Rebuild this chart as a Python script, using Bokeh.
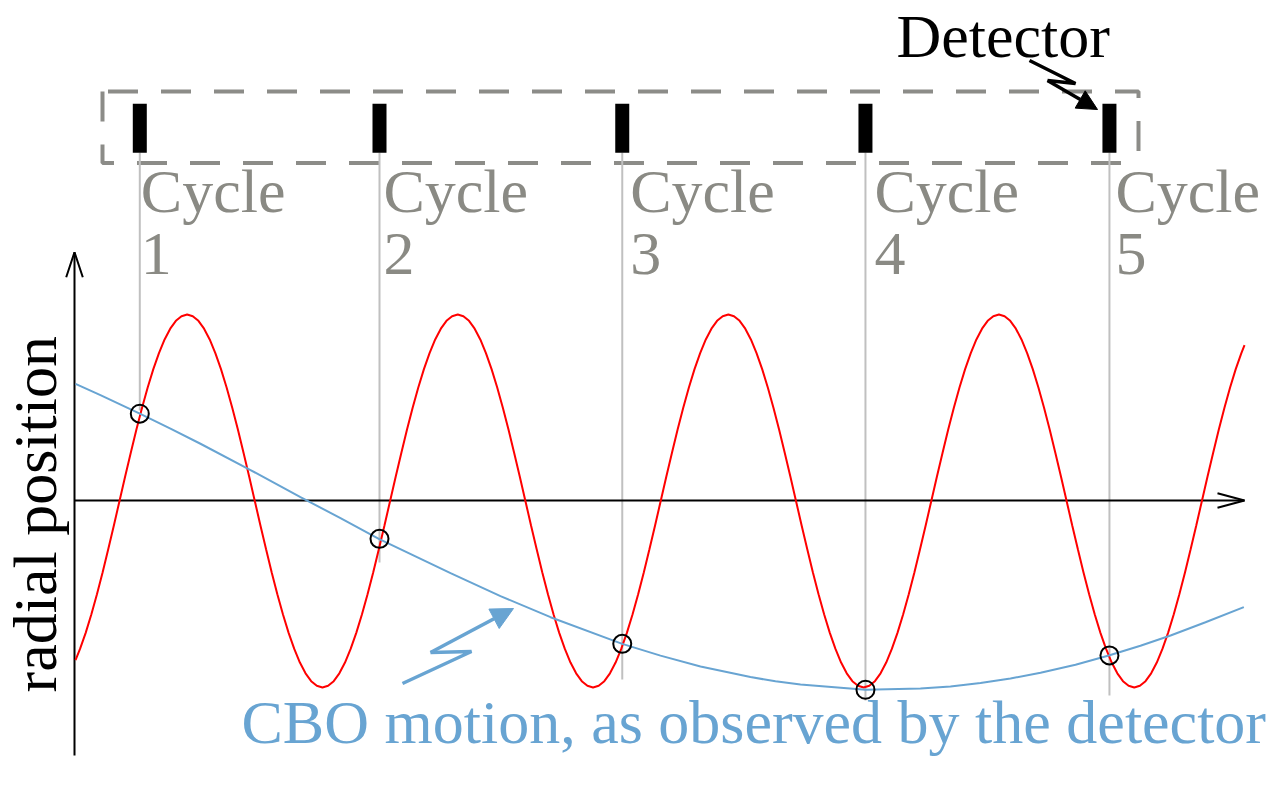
from bokeh.plotting import figure
from bokeh.models import Range1d, Label, Arrow, NormalHead
from bokeh.core.properties import value
from bokeh.embed import file_html
from bokeh.resources import INLINE

# ---------------- data ----------------
# x: time, in units of 1/24 of the CBO period (15 degrees of CBO phase)
# y: radial position, in units of the CBO amplitude
detector_x = [1.80, 23.06, 44.59, 66.16, 87.80]
cycle_numbers = ["1", "2", "3", "4", "5"]
observed_y = [0.468, -0.203, -0.766, -1.012, -0.828]

# red: true CBO motion, read every half unit (7.5 degrees of phase)
red_x = [-3.90] + [k / 2 for k in range(-7, 200)] + [99.78]
red_y = [
    -0.853, -0.793, -0.707, -0.609, -0.5, -0.383, -0.259, -0.131,
    # x = 0 .. 23.5
    0.0, 0.131, 0.259, 0.383, 0.5, 0.609, 0.707, 0.793, 0.866, 0.924, 0.966, 0.991,
    1.0, 0.991, 0.966, 0.924, 0.866, 0.793, 0.707, 0.609, 0.5, 0.383, 0.259, 0.131,
    0.0, -0.131, -0.259, -0.383, -0.5, -0.609, -0.707, -0.793, -0.866, -0.924, -0.966, -0.991,
    -1.0, -0.991, -0.966, -0.924, -0.866, -0.793, -0.707, -0.609, -0.5, -0.383, -0.259, -0.131,
    # x = 24 .. 47.5
    0.0, 0.131, 0.259, 0.383, 0.5, 0.609, 0.707, 0.793, 0.866, 0.924, 0.966, 0.991,
    1.0, 0.991, 0.966, 0.924, 0.866, 0.793, 0.707, 0.609, 0.5, 0.383, 0.259, 0.131,
    0.0, -0.131, -0.259, -0.383, -0.5, -0.609, -0.707, -0.793, -0.866, -0.924, -0.966, -0.991,
    -1.0, -0.991, -0.966, -0.924, -0.866, -0.793, -0.707, -0.609, -0.5, -0.383, -0.259, -0.131,
    # x = 48 .. 71.5
    0.0, 0.131, 0.259, 0.383, 0.5, 0.609, 0.707, 0.793, 0.866, 0.924, 0.966, 0.991,
    1.0, 0.991, 0.966, 0.924, 0.866, 0.793, 0.707, 0.609, 0.5, 0.383, 0.259, 0.131,
    0.0, -0.131, -0.259, -0.383, -0.5, -0.609, -0.707, -0.793, -0.866, -0.924, -0.966, -0.991,
    -1.0, -0.991, -0.966, -0.924, -0.866, -0.793, -0.707, -0.609, -0.5, -0.383, -0.259, -0.131,
    # x = 72 .. 95.5
    0.0, 0.131, 0.259, 0.383, 0.5, 0.609, 0.707, 0.793, 0.866, 0.924, 0.966, 0.991,
    1.0, 0.991, 0.966, 0.924, 0.866, 0.793, 0.707, 0.609, 0.5, 0.383, 0.259, 0.131,
    0.0, -0.131, -0.259, -0.383, -0.5, -0.609, -0.707, -0.793, -0.866, -0.924, -0.966, -0.991,
    -1.0, -0.991, -0.966, -0.924, -0.866, -0.793, -0.707, -0.609, -0.5, -0.383, -0.259, -0.131,
    # x = 96 .. 99.5
    0.0, 0.131, 0.259, 0.383, 0.5, 0.609, 0.707, 0.793,
    0.836,
]

# blue: CBO motion as seen by the detector
blue_x = [-3.90, -1.69, 1.80, 4.52, 7.18, 11.62, 16.05, 19.60, 23.0, 26.25, 29.36, 33.79,
          38.23, 44.59, 47.98, 51.53, 55.96, 58.18, 60.40, 66.16, 71.04, 73.70, 76.36,
          79.02, 81.69, 84.79, 87.74, 90.55, 93.22, 96.32, 99.72]
blue_y = [0.628, 0.568, 0.468, 0.388, 0.307, 0.166, 0.021, -0.092, -0.203, -0.297, -0.387,
          -0.510, -0.623, -0.766, -0.829, -0.887, -0.944, -0.967, -0.984, -1.012, -1.006,
          -0.995, -0.976, -0.952, -0.921, -0.878, -0.828, -0.776, -0.721, -0.650, -0.569]

# ---------------- layout helpers (figure pixels -> data) ----------------
X0_PX, X_SCALE = 119.0, 11.275
Y0_PX, Y_SCALE = 500.5, 186.5
W, H = 1270, 774
TXT = 22  # the alphabetic baseline lands this many px below the anchor


def fx(px):
    return (px - X0_PX) / X_SCALE


def fy(py):
    return (Y0_PX - py) / Y_SCALE


FONT = "Liberation Serif"
RED = "#ff0000"
BLUE = "#68a4d2"
GRAY_TEXT = "#8a8a84"
GRAY_BOX = "#8c8c88"
GRAY_LINE = "#c0c0c0"

p = figure(width=W, height=H,
           x_range=Range1d(fx(0), fx(W)), y_range=Range1d(fy(H), fy(0)),
           output_backend="svg", toolbar_location=None, min_border=0)
p.axis.visible = False
p.grid.visible = False
p.outline_line_color = None
p.background_fill_color = "white"
p.border_fill_color = "white"

# dashed detector box
p.line([fx(102), fx(102), fx(1138)], [fy(91), fy(162.5), fy(162.5)],
       line_color=GRAY_BOX, line_width=4, line_dash="30 23")
p.line([fx(1138), fx(1138), fx(102)], [fy(162.5), fy(91), fy(91)],
       line_color=GRAY_BOX, line_width=4, line_dash="30 23", line_dash_offset=41)

# vertical detector lines
line_bottom = [fy(410), fy(562), fy(679), fy(700), fy(695)]
p.segment(x0=detector_x, y0=[fy(152)] * 5, x1=detector_x, y1=line_bottom,
          line_color=GRAY_LINE, line_width=2)

# detectors
p.rect(x=detector_x, y=[fy(127.8)] * 5, width=14 / X_SCALE, height=49 / Y_SCALE,
       fill_color="black", line_color=None)

# axes
p.line([fx(74), fx(1244)], [fy(500), fy(500)], line_color="black", line_width=2)
p.line([fx(1217), fx(1244), fx(1217)], [fy(492.7), fy(500), fy(507.3)],
       line_color="black", line_width=2)
p.line([fx(74), fx(74)], [fy(755), fy(251.7)], line_color="black", line_width=2)
p.line([fx(65.7), fx(74), fx(82.3)], [fy(276.7), fy(251.7), fy(276.7)],
       line_color="black", line_width=2)

# curves
p.line(red_x, red_y, line_color=RED, line_width=2)
p.line(blue_x, blue_y, line_color=BLUE, line_width=2)
p.scatter(detector_x, observed_y, marker="circle", size=18, fill_color=None,
          line_color="black", line_width=2)

# cycle labels
label_dx = [1, 4, 8, 9, 6]
lab_x = [x + d / X_SCALE for x, d in zip(detector_x, label_dx)]
p.text(x=lab_x, y=[fy(212.5 - TXT)] * 5, text=["Cycle"] * 5,
       text_font=value(FONT), text_font_size=value("62px"), text_color=GRAY_TEXT,
       text_align="left", text_baseline="alphabetic")
p.text(x=lab_x, y=[fy(275 - TXT)] * 5, text=cycle_numbers,
       text_font=value(FONT), text_font_size=value("62px"), text_color=GRAY_TEXT,
       text_align="left", text_baseline="alphabetic")

p.add_layout(Label(x=fx(896), y=fy(57 - TXT), text="Detector", text_font=FONT,
                   text_font_size="62px", text_color="black",
                   text_align="left", text_baseline="alphabetic"))
p.add_layout(Label(x=fx(56.5 - TXT), y=fy(692), text="radial position", text_font=FONT,
                   text_font_size="62px", text_color="black", angle=1.5707963,
                   text_align="left", text_baseline="alphabetic"))
p.add_layout(Label(x=fx(241), y=fy(743 - TXT), text="CBO motion, as observed by the detector",
                   text_font=FONT, text_font_size="62px", text_color=BLUE,
                   text_align="left", text_baseline="alphabetic"))

# lightning arrows
p.line([fx(1029), fx(1075), fx(1047)], [fy(60), fy(83), fy(80)],
       line_color="black", line_width=3.5)
p.add_layout(Arrow(x_start=fx(1047), y_start=fy(80), x_end=fx(1097), y_end=fy(109),
                   line_color="black", line_width=3.5,
                   end=NormalHead(size=20, fill_color="black", line_color="black", line_width=1)))

p.line([fx(402), fx(471), fx(430)], [fy(683), fy(651), fy(652)],
       line_color=BLUE, line_width=3.5)
p.add_layout(Arrow(x_start=fx(430), y_start=fy(652), x_end=fx(513), y_end=fy(608),
                   line_color=BLUE, line_width=3.5,
                   end=NormalHead(size=22, fill_color=BLUE, line_color=BLUE, line_width=1)))

open("out.html", "w").write(file_html(p, INLINE))
